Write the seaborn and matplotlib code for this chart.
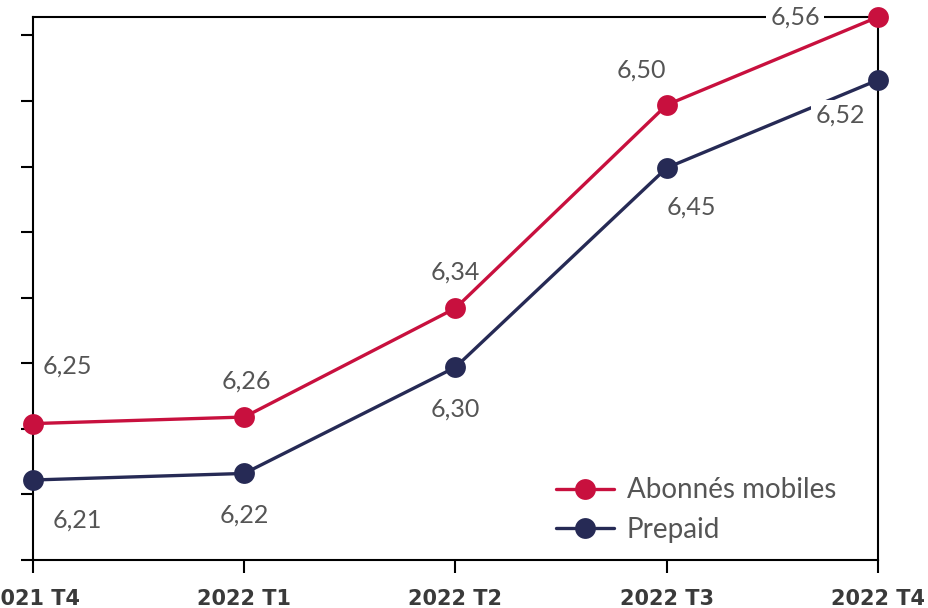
import numpy as np
import pandas as pd
import seaborn as sns
import matplotlib.pyplot as plt

# trimestres et valeurs
quarters = ['2021 T4', '2022 T1', '2022 T2', '2022 T3', '2022 T4']
abonnes = [6.254, 6.259, 6.342, 6.497, 6.564]
prepaid = [6.211, 6.216, 6.297, 6.449, 6.516]
series_names = ['Abonnés mobiles', 'Prepaid']

red = '#C8103E'
navy = '#262A55'

sns.set_style('white')
plt.rcParams['font.family'] = ['Lato', 'DejaVu Sans']

df = pd.DataFrame({
    'trimestre': quarters * 2,
    'valeur': abonnes + prepaid,
    'serie': [series_names[0]] * 5 + [series_names[1]] * 5,
})

fig = plt.figure(figsize=(9.29, 6.08), dpi=100)
ax = fig.add_axes([33 / 929, 48 / 608, 845 / 929, 543 / 608])

sns.lineplot(data=df, x='trimestre', y='valeur', hue='serie',
             palette=[red, navy], marker='o', markersize=15,
             markeredgewidth=0, linewidth=2.4, ax=ax, sort=False)
for ln in ax.lines:
    ln.set_clip_on(False)
    ln.set_zorder(4)

ax.set_xlim(0, 4)
ax.set_ylim(6.15, 6.564)
ax.set_yticks(np.arange(6.15, 6.56, 0.05))
ax.set_yticklabels([])
ax.set_xlabel('')
ax.set_ylabel('')

for s in ax.spines.values():
    s.set_color('black')
    s.set_linewidth(1.5)
ax.tick_params(axis='y', left=True, length=9, width=1.5, color='black')
ax.tick_params(axis='x', bottom=True, length=9, width=1.5, color='black',
               pad=12)
for lab in ax.get_xticklabels():
    lab.set_fontfamily(['Liberation Sans Narrow', 'DejaVu Sans'])
    lab.set_fontweight('bold')
    lab.set_fontsize(15)
    lab.set_color('#3a3a3a')

# décalages des étiquettes (pixels)
off_a = [(34, 58), (2, 36), (0, 36), (-25, 35), (-83, 0)]
off_p = [(44, -40), (0, -42), (0, -42), (25, -39), (-38, -35)]

def label(x, v, off, boxed):
    kw = {}
    if boxed:
        kw['bbox'] = dict(boxstyle='square,pad=0.15', fc='white', ec='none')
    ax.annotate(f'{v:.2f}'.replace('.', ','), (x, v), xytext=off,
                textcoords='offset pixels', ha='center', va='center',
                fontsize=18, color='#555555', zorder=5, **kw)

for i in range(5):
    label(i, abonnes[i], off_a[i], i == 4)
    label(i, prepaid[i], off_p[i], i == 4)

leg = ax.legend(frameon=False, loc='lower right', bbox_to_anchor=(0.98, -0.015),
                fontsize=20, handlelength=2.1, labelspacing=0.5,
                handletextpad=0.45)
for t in leg.get_texts():
    t.set_color('#555555')

fig.savefig('out.png', dpi=100)
